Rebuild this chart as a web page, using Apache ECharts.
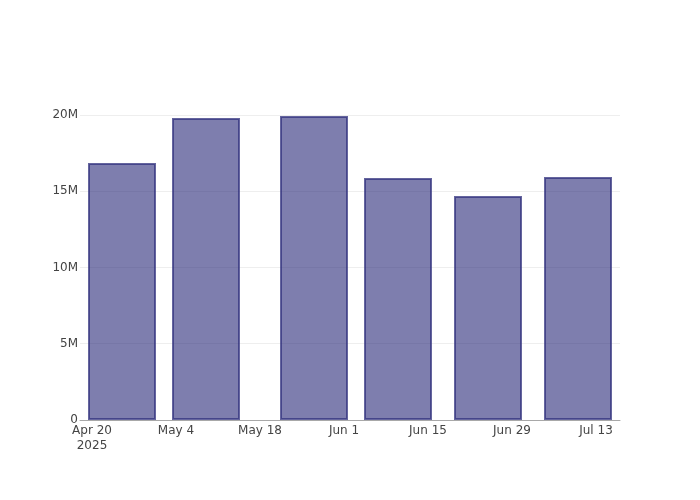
<!DOCTYPE html>
<html>
<head>
<meta charset="utf-8">
<script src="https://cdn.jsdelivr.net/npm/echarts@6/dist/echarts.min.js"></script>
<style>html,body{margin:0;padding:0;background:#fff}#c{width:700px;height:500px}</style>
</head>
<body>
<div id="c"></div>
<script>
const barDates = ['2025-04-25', '2025-05-09', '2025-05-27', '2025-06-10', '2025-06-25', '2025-07-10'];
const barValues = [16850000, 19800000, 19930000, 15870000, 14690000, 15930000];
const xTickDates = ['2025-04-20', '2025-05-04', '2025-05-18', '2025-06-01', '2025-06-15', '2025-06-29', '2025-07-13'];
const yTickValues = [0, 5000000, 10000000, 15000000, 20000000];
const xRange = ['2025-04-18', '2025-07-17'];
const yMax = 20983600;
const monthNames = ['Jan','Feb','Mar','Apr','May','Jun','Jul','Aug','Sep','Oct','Nov','Dec'];

const ts = s => Date.parse(s + 'T00:00:00Z');
const xTicks = xTickDates.map(ts);

const chart = echarts.init(document.getElementById('c'), null, {renderer: 'canvas'});
chart.setOption({
  animation: false,
  textStyle: {fontFamily: '"DejaVu Sans", sans-serif'},
  grid: {left: 80, right: 80, top: 100, bottom: 80, containLabel: false},
  xAxis: {
    type: 'value',
    min: ts(xRange[0]),
    max: ts(xRange[1]),
    axisLine: {show: true, lineStyle: {color: '#a8a8a8', width: 1}},
    axisTick: {show: false},
    splitLine: {show: false},
    axisLabel: {
      customValues: xTicks,
      color: '#444',
      fontSize: 12,
      margin: 3,
      lineHeight: 15,
      hideOverlap: false,
      formatter: function (v) {
        const d = new Date(v);
        let s = monthNames[d.getUTCMonth()] + ' ' + d.getUTCDate();
        if (v === xTicks[0]) s += '\n' + d.getUTCFullYear();
        return s;
      }
    }
  },
  yAxis: {
    type: 'value',
    min: 0,
    max: yMax,
    interval: 5000000,
    axisLine: {show: false},
    axisTick: {show: false},
    splitLine: {show: true, showMinLine: false, showMaxLine: false, lineStyle: {color: '#eeeeee', width: 1}},
    axisLabel: {
      color: '#444',
      fontSize: 12,
      margin: 2,
      showMaxLabel: false,
      formatter: function (v) {
        if (yTickValues.indexOf(v) < 0) return '';
        return v === 0 ? '0' : (v / 1e6) + 'M';
      }
    }
  },
  series: [{
    type: 'bar',
    data: barDates.map((d, i) => [ts(d), barValues[i]]),
    barWidth: 68,
    itemStyle: {
      color: 'rgba(40,40,120,0.6)',
      borderColor: 'rgba(50,50,125,0.75)',
      borderWidth: 2
    }
  }]
});
</script>
</body>
</html>
